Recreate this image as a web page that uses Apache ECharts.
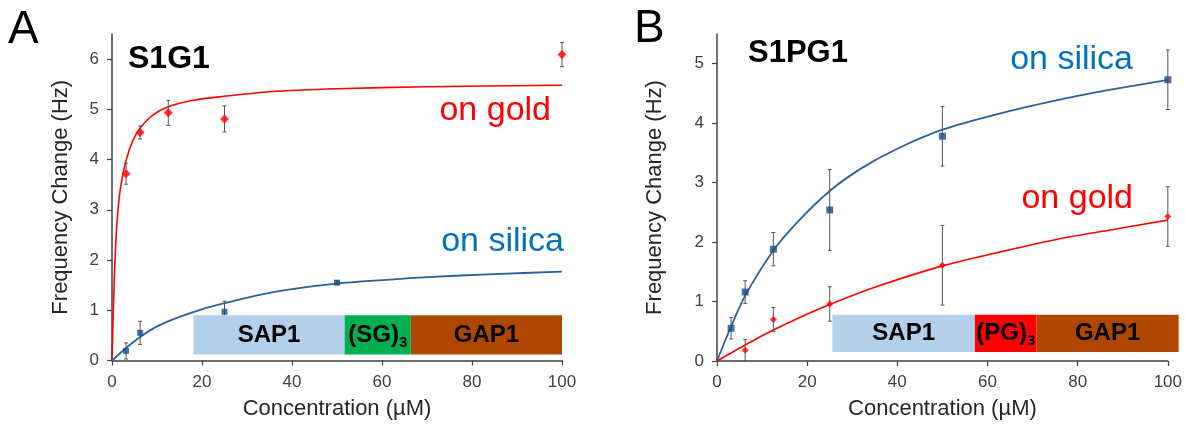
<!DOCTYPE html>
<html lang="en">
  <head>
    <meta charset="UTF-8" />
    <title>S1G1 / S1PG1 binding</title>
    <style>
      html, body { margin: 0; padding: 0; background: #fff; }
      #main { width: 1185px; height: 425px; }
    </style>
  </head>
  <body>
    <script src="https://cdn.jsdelivr.net/npm/echarts@6.0.0/dist/echarts.min.js"></script>
    <div id="main"></div>
    <script>
      // tick labels
      const xTicks = [0, 20, 40, 60, 80, 100]
      const yTicksA = [0, 1, 2, 3, 4, 5, 6]
      const yTicksB = [0, 1, 2, 3, 4, 5]

      // panel A (S1G1) measured points
      const goldA_x = [3.125, 6.25, 12.5, 25, 100]
      const goldA_y = [3.72, 4.54, 4.93, 4.81, 6.09]
      const goldA_err = [0.21, 0.13, 0.25, 0.26, 0.24]
      const silicaA_x = [3.125, 6.25, 25, 50]
      const silicaA_y = [0.19, 0.55, 0.97, 1.55]
      const silicaA_err = [0.16, 0.23, 0.21, 0.04]

      // panel A fitted curves
      const goldFitA_x = [0, 0.5, 1, 1.5, 2, 3.125, 4.5, 6.25, 9, 12.5, 18, 25, 35, 50, 70, 100]
      const goldFitA_y = [0, 1.6, 2.6, 3.15, 3.5, 3.98, 4.35, 4.63, 4.88, 5.05, 5.18, 5.26, 5.35, 5.41, 5.45, 5.48]
      const silicaFitA_x = [0, 3.125, 6.25, 10, 15, 20, 25, 32, 40, 50, 60, 70, 85, 100]
      const silicaFitA_y = [0, 0.25, 0.47, 0.68, 0.87, 1.02, 1.14, 1.29, 1.42, 1.53, 1.6, 1.66, 1.72, 1.77]

      // panel B (S1PG1) measured points
      const silicaB_x = [3.125, 6.25, 12.5, 25, 50, 100]
      const silicaB_y = [0.55, 1.16, 1.88, 2.54, 3.78, 4.73]
      const silicaB_err = [0.18, 0.19, 0.28, 0.68, 0.5, 0.5]
      const goldB_x = [6.25, 12.5, 25, 50, 100]
      const goldB_y = [0.18, 0.70, 0.96, 1.61, 2.43]
      const goldB_err = [0.18, 0.2, 0.29, 0.67, 0.5]

      // panel B fitted curves
      const silicaFitB_x = [0, 3.125, 6.25, 12.5, 18, 25, 32, 40, 50, 62, 75, 87, 100]
      const silicaFitB_y = [0, 0.58, 1.1, 1.86, 2.35, 2.86, 3.24, 3.57, 3.89, 4.15, 4.38, 4.56, 4.73]
      const goldFitB_x = [0, 6.25, 12.5, 18, 25, 35, 50, 62, 75, 87, 100]
      const goldFitB_y = [0, 0.27, 0.52, 0.72, 0.95, 1.24, 1.6, 1.82, 2.04, 2.2, 2.37]

      // construct domain bars
      const boxA_start = [18.1, 51.7, 66.4]
      const boxA_end = [51.7, 66.4, 100]
      const boxA_y = [0.12, 0.9]
      const boxA_label = ['{b|SAP1}', '{b|(SG)}{s|3}', '{b|GAP1}']
      const boxB_start = [25.6, 57.2, 70.9]
      const boxB_end = [57.2, 70.9, 102.4]
      const boxB_y = [0.15, 0.78]
      const boxB_label = ['{b|SAP1}', '{b|(PG)}{s|3}', '{b|GAP1}']

      const font = 'Liberation Sans, Arial, Helvetica, sans-serif'
      const axisCol = '#404040'
      const RED = '#ff0000'
      const BLUE_LINE = '#2a619a'
      const BLUE_MARK = '#1b4e87'

      const zip = (xs, ys) => xs.map((x, i) => [x, ys[i]])
      const errs = (xs, ys, es) => xs.map((x, i) => [x, ys[i] - es[i], ys[i] + es[i]])

      function renderErr(params, api) {
        const x = api.value(0)
        const lo = api.coord([x, api.value(1)])
        const hi = api.coord([x, api.value(2)])
        const w = 2
        const st = { stroke: '#555', lineWidth: 1 }
        return {
          type: 'group',
          children: [
            { type: 'line', shape: { x1: lo[0], y1: lo[1], x2: hi[0], y2: hi[1] }, style: st },
            { type: 'line', shape: { x1: lo[0] - w, y1: lo[1], x2: lo[0] + w, y2: lo[1] }, style: st },
            { type: 'line', shape: { x1: hi[0] - w, y1: hi[1], x2: hi[0] + w, y2: hi[1] }, style: st }
          ]
        }
      }

      function boxRenderer(colors, labels) {
        return function (params, api) {
          const p0 = api.coord([api.value(0), api.value(3)])
          const p1 = api.coord([api.value(1), api.value(2)])
          return {
            type: 'rect',
            shape: { x: p0[0], y: p0[1], width: p1[0] - p0[0], height: p1[1] - p0[1] },
            style: { fill: colors[params.dataIndex] },
            textContent: {
              type: 'text',
              style: {
                text: labels[params.dataIndex],
                fill: '#000',
                rich: {
                  b: { fontSize: 24, fontWeight: 'bold', fontFamily: font, fill: '#000', lineHeight: 30 },
                  s: { fontSize: 15, fontWeight: 'bold', fontFamily: font, fill: '#000', lineHeight: 30, verticalAlign: 'bottom', padding: [12, 0, 0, 0] }
                }
              }
            },
            textConfig: { position: 'inside', insideFill: '#000', insideStroke: 'transparent' }
          }
        }
      }

      const boxData = (s, e, y) => s.map((v, i) => [v, e[i], y[0], y[1]])

      function xAxisCfg(idx) {
        return {
          gridIndex: idx,
          type: 'value',
          min: 0,
          max: 100,
          interval: 20,
          name: 'Concentration (\u00b5M)',
          nameLocation: 'middle',
          nameGap: 37,
          nameTextStyle: { fontSize: 22, color: '#262626', fontFamily: font },
          axisLine: { lineStyle: { color: axisCol, width: 1.5 } },
          axisTick: { length: 5, lineStyle: { color: axisCol, width: 1.2 } },
          axisLabel: { fontSize: 17, color: axisCol, fontFamily: font, margin: 13 },
          splitLine: { show: false }
        }
      }

      function yAxisCfg(idx, max, ticks, gap) {
        return {
          gridIndex: idx,
          type: 'value',
          min: 0,
          max: max,
          interval: 1,
          name: 'Frequency Change (Hz)',
          nameLocation: 'middle',
          nameGap: gap,
          nameTextStyle: { fontSize: 22, color: '#262626', fontFamily: font },
          axisLine: { show: true, lineStyle: { color: axisCol, width: 1.5 } },
          axisTick: { show: true, length: 5, customValues: ticks, lineStyle: { color: axisCol, width: 1.2 } },
          axisLabel: { fontSize: 17, color: axisCol, fontFamily: font, margin: 13, customValues: ticks },
          splitLine: { show: false }
        }
      }

      const fitLine = (xi, yi, data, color, width) => ({
        type: 'line', xAxisIndex: xi, yAxisIndex: yi, data: data,
        smooth: 0.3, showSymbol: false, clip: false,
        lineStyle: { color: color, width: width }, z: 2
      })

      const chart = echarts.init(document.getElementById('main'))
      chart.setOption({
        animation: false,
        grid: [
          { left: 112, right: 623, top: 34, bottom: 64.5 },
          { left: 717, right: 17, top: 34, bottom: 63.5 }
        ],
        xAxis: [xAxisCfg(0), xAxisCfg(1)],
        yAxis: [yAxisCfg(0, 6.5, yTicksA, 40), yAxisCfg(1, 5.5, yTicksB, 51)],
        graphic: [
          { type: 'text', left: 8, top: 7, style: { text: 'A', fontSize: 46, fontFamily: font, fill: '#000' } },
          { type: 'text', left: 634, top: 6, style: { text: 'B', fontSize: 46, fontFamily: font, fill: '#000' } },
          { type: 'text', left: 128, top: 43, style: { text: 'S1G1', fontSize: 32, fontWeight: 'bold', fontFamily: font, fill: '#000' } },
          { type: 'text', left: 748, top: 38, style: { text: 'S1PG1', fontSize: 31, fontWeight: 'bold', fontFamily: font, fill: '#000' } },
          { type: 'text', x: 551, y: 111, style: { text: 'on gold', fontSize: 34, fontFamily: font, fill: RED, align: 'right', verticalAlign: 'middle' } },
          { type: 'text', x: 564, y: 242, style: { text: 'on silica', fontSize: 34, fontFamily: font, fill: '#0070c0', align: 'right', verticalAlign: 'middle' } },
          { type: 'text', x: 1133, y: 60, style: { text: 'on silica', fontSize: 34, fontFamily: font, fill: '#0070c0', align: 'right', verticalAlign: 'middle' } },
          { type: 'text', x: 1133, y: 199, style: { text: 'on gold', fontSize: 34, fontFamily: font, fill: RED, align: 'right', verticalAlign: 'middle' } }
        ],
        series: [
          // panel A
          fitLine(0, 0, zip(goldFitA_x, goldFitA_y), RED, 1.6),
          fitLine(0, 0, zip(silicaFitA_x, silicaFitA_y), BLUE_LINE, 1.8),
          { type: 'custom', xAxisIndex: 0, yAxisIndex: 0, renderItem: renderErr, data: errs(goldA_x, goldA_y, goldA_err), z: 3 },
          { type: 'custom', xAxisIndex: 0, yAxisIndex: 0, renderItem: renderErr, data: errs(silicaA_x, silicaA_y, silicaA_err), z: 3 },
          { type: 'custom', xAxisIndex: 0, yAxisIndex: 0, renderItem: boxRenderer(['#b4cfe9', '#00b050', '#b04700'], boxA_label), data: boxData(boxA_start, boxA_end, boxA_y), z: 4 },
          { type: 'scatter', xAxisIndex: 0, yAxisIndex: 0, data: zip(goldA_x, goldA_y), symbol: 'diamond', symbolSize: 9, itemStyle: { color: RED }, clip: false, z: 5 },
          { type: 'scatter', xAxisIndex: 0, yAxisIndex: 0, data: zip(silicaA_x, silicaA_y), symbol: 'rect', symbolSize: 6, itemStyle: { color: BLUE_MARK }, clip: false, z: 5 },
          // panel B
          fitLine(1, 1, zip(silicaFitB_x, silicaFitB_y), BLUE_LINE, 1.8),
          fitLine(1, 1, zip(goldFitB_x, goldFitB_y), RED, 1.6),
          { type: 'custom', xAxisIndex: 1, yAxisIndex: 1, renderItem: renderErr, data: errs(silicaB_x, silicaB_y, silicaB_err), z: 3 },
          { type: 'custom', xAxisIndex: 1, yAxisIndex: 1, renderItem: renderErr, data: errs(goldB_x, goldB_y, goldB_err), z: 3 },
          { type: 'custom', xAxisIndex: 1, yAxisIndex: 1, renderItem: boxRenderer(['#b4cfe9', '#ff0000', '#b04700'], boxB_label), data: boxData(boxB_start, boxB_end, boxB_y), clip: false, z: 4 },
          { type: 'scatter', xAxisIndex: 1, yAxisIndex: 1, data: zip(silicaB_x, silicaB_y), symbol: 'rect', symbolSize: 7, itemStyle: { color: BLUE_MARK }, clip: false, z: 5 },
          { type: 'scatter', xAxisIndex: 1, yAxisIndex: 1, data: zip(goldB_x, goldB_y), symbol: 'diamond', symbolSize: 7, itemStyle: { color: RED }, clip: false, z: 5 }
        ]
      })
    </script>
  </body>
</html>
